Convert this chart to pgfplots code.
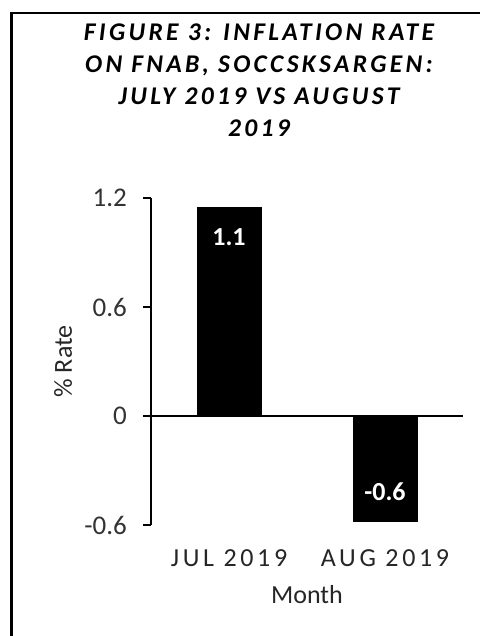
\documentclass[border=0pt]{standalone}
\usepackage{fontspec}
\setmainfont{Carlito}
\newfontfamily\titlefont[LetterSpace=13]{Carlito}
\newfontfamily\spacedfont[LetterSpace=14]{Carlito}
\usepackage{pgfplots}
\pgfplotsset{compat=1.18}
\begin{document}
\begin{tikzpicture}[x=1bp,y=1bp]
\useasboundingbox (0,0) rectangle (480,636);
\fill[white] (0,0) rectangle (480,636);
\begin{axis}[
  at={(151bp,111bp)}, anchor=south west,
  scale only axis, width=312bp, height=327bp,
  xmin=-0.5, xmax=1.5, ymin=-0.6, ymax=1.2,
  axis y line=left, axis x line=bottom,
  x axis line style={draw=none},
  y axis line style={-, line width=1.4bp, black},
  xtick={0,1}, xticklabels={JUL 2019,AUG 2019},
  xtick style={draw=none},
  ytick={-0.6,0,0.6,1.2}, yticklabels={-0.6,0,0.6,1.2},
  ytick style={line width=1.4bp, black},
  tick align=outside, major tick length=8bp,
  yticklabel style={anchor=east, inner sep=0pt, xshift=-16bp, font=\fontsize{27bp}{32bp}\selectfont, text=black!80},
  xticklabel style={anchor=base, inner sep=0pt, yshift=-33bp, font=\fontsize{26bp}{30bp}\selectfont\spacedfont, text=black!85},
  ylabel={\% Rate}, xlabel={Month},
  ylabel style={at={(axis description cs:0,0.5)}, anchor=center, yshift=88bp, font=\fontsize{26bp}{30bp}\selectfont, text=black!85},
  xlabel style={at={(axis description cs:0.5,0)}, anchor=base, yshift=-78bp, font=\fontsize{26bp}{30bp}\selectfont, text=black!85},
  clip=false,
]
\addplot[ybar, bar width=64bp, bar shift=0pt, fill=black, draw=black,
  nodes near coords, point meta=explicit symbolic,
  every node near coord/.append style={anchor=center, yshift=-30bp, text=white, font=\fontsize{26bp}{30bp}\selectfont\bfseries}]
  coordinates {(0,1.15) [1.1]};
\addplot[ybar, bar width=64bp, bar shift=0pt, fill=black, draw=black,
  nodes near coords, point meta=explicit symbolic,
  every node near coord/.append style={anchor=center, yshift=30bp, text=white, font=\fontsize{26bp}{30bp}\selectfont\bfseries}]
  coordinates {(1,-0.58) [-0.6]};
\draw[line width=1.6bp, black] (axis cs:-0.5,0) -- (axis cs:1.5,0);
\end{axis}
\node[anchor=north, inner sep=0pt, align=center, font=\fontsize{25.5bp}{32bp}\selectfont\titlefont\bfseries\itshape] at (259,612)
  {FIGURE 3: INFLATION RATE\\ON FNAB, SOCCSKSARGEN:\\JULY 2019 VS AUGUST\\2019};
\draw[line width=2.5bp, black] (11.5,-5) -- (11.5,623) -- (490,623);
\end{tikzpicture}
\end{document}
